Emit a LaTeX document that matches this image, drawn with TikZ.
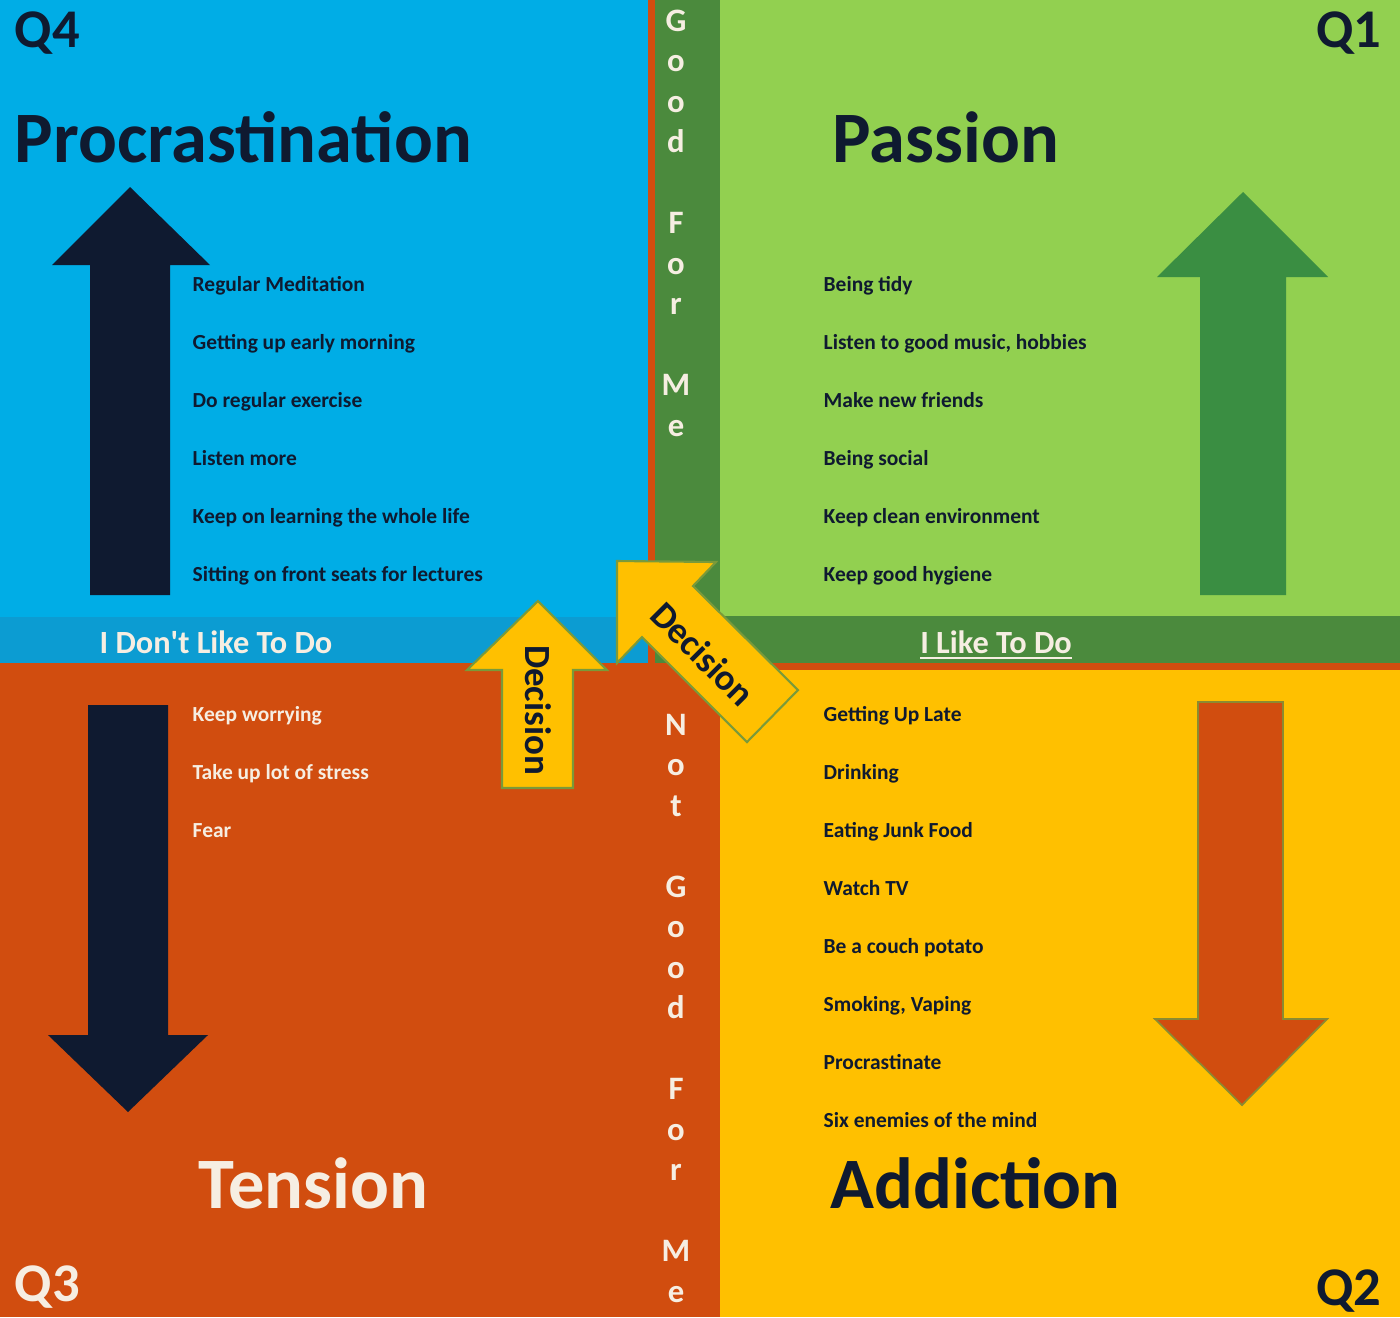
\documentclass[tikz,border=0pt]{standalone}
\usepackage{fontspec}
\setmainfont{Carlito}
\usetikzlibrary{positioning}

\definecolor{qblue}{HTML}{00ADE6}
\definecolor{qblueband}{HTML}{0C9CD2}
\definecolor{qgreen}{HTML}{92D050}
\definecolor{qstrip}{HTML}{4B8A3D}
\definecolor{qarrowgreen}{HTML}{3A8E42}
\definecolor{qorange}{HTML}{D14D0F}
\definecolor{qyellow}{HTML}{FFC000}
\definecolor{qnavy}{HTML}{0F1A30}
\definecolor{qcream}{HTML}{F6EEE2}
\definecolor{qedge}{HTML}{7A9A3A}

\begin{document}
\begin{tikzpicture}[x=0.01cm, y=-0.01cm,
    title/.style={anchor=base west, inner sep=0pt, font=\fontsize{20.6}{24}\selectfont\bfseries},
    qlabel/.style={inner sep=0pt, font=\fontsize{15.5}{18}\selectfont\bfseries},
    item/.style={anchor=base west, inner sep=0pt, font=\fontsize{6.1}{7.5}\selectfont\bfseries},
    band/.style={anchor=base, inner sep=0pt, text=qcream, font=\fontsize{9.2}{11}\selectfont\bfseries},
    letter/.style={anchor=base, inner sep=0pt, text=qcream, font=\fontsize{9.3}{11}\selectfont\bfseries},
    decision/.style={fill=qyellow, draw=qedge, line width=0.6pt},
    dectext/.style={inner sep=0pt, text=qnavy, font=\fontsize{10.5}{12}\selectfont\bfseries}]
  \useasboundingbox (0,0) rectangle (1400,1317);

  % quadrants and bands
  \fill[qblue] (0,0) rectangle (648,617);
  \fill[qblueband] (0,617) rectangle (648,663);
  \fill[qorange] (648,0) rectangle (655,663);
  \fill[qstrip] (655,0) rectangle (720,663);
  \fill[qgreen] (720,0) rectangle (1400,616);
  \fill[qstrip] (720,616) rectangle (1400,663);
  \fill[qorange] (0,663) rectangle (720,1317);
  \fill[qorange] (720,663) rectangle (1400,670);
  \fill[qyellow] (720,670) rectangle (1400,1317);

  % big arrows
  \fill[qnavy] (90,595) -- (90,265) -- (52,265) -- (130,187) -- (210,265) -- (170,265) -- (170,595) -- cycle;
  \fill[qnavy] (88,705) -- (168,705) -- (168,1035) -- (208,1035) -- (128,1112) -- (48,1035) -- (88,1035) -- cycle;
  \fill[qarrowgreen] (1200,595) -- (1200,277) -- (1157,277) -- (1243,192) -- (1328,277) -- (1286,277) -- (1286,595) -- cycle;
  \draw[fill=qorange, draw=qedge!80!qorange, line width=0.5pt] (1198,702) -- (1283,702) -- (1283,1019) -- (1327,1019) -- (1242,1105) -- (1155,1019) -- (1198,1019) -- cycle;

  % decision arrows
  \draw[decision] (502,788) -- (502,670) -- (467,670) -- (538,601) -- (607,670) -- (573,670) -- (573,788) -- cycle;
  \draw[decision] (617,561) -- (716,562) -- (693,586) -- (798,690) -- (747,742) -- (642,637) -- (617,663) -- cycle;
  \node[dectext, rotate=-90] (dec1) at (538,710) {Decision};
  \node[dectext, rotate=-45] (dec2) at (703,654) {Decision};

  % quadrant labels and titles
  \node[qlabel, anchor=base west, text=qnavy] (q4) at (14,47) {Q4};
  \node[qlabel, anchor=base east, text=qnavy] (q1) at (1382,47) {Q1};
  \node[qlabel, anchor=base west, text=qcream] (q3) at (14,1301) {Q3};
  \node[qlabel, anchor=base east, text=qnavy] (q2) at (1382,1305) {Q2};

  \node[title, text=qnavy] (procr) at (14,162) {Procrastination};
  \node[title, text=qnavy] (passion) at (832,162) {Passion};
  \node[title, text=qcream] (tension) at (198,1208) {Tension};
  \node[title, text=qnavy] (addiction) at (830,1208) {Addiction};

  % lists
  \foreach \txt [count=\i] in {Regular Meditation, Getting up early morning, Do regular exercise,
      Listen more, Keep on learning the whole life, Sitting on front seats for lectures}
    \node[item, text=qnavy] (dont\i) at (192,233+58*\i) {\txt};
  \foreach \txt [count=\i] in {Being tidy, {Listen to good music, hobbies}, Make new friends,
      Being social, Keep clean environment, Keep good hygiene}
    \node[item, text=qnavy] (like\i) at (823,233+58*\i) {\txt};
  \foreach \txt [count=\i] in {Keep worrying, Take up lot of stress, Fear}
    \node[item, text=qcream] (stress\i) at (192,663+58*\i) {\txt};
  \foreach \txt [count=\i] in {Getting Up Late, Drinking, Eating Junk Food, Watch TV,
      Be a couch potato, {Smoking, Vaping}, Procrastinate, Six enemies of the mind}
    \node[item, text=qnavy] (habit\i) at (823,663+58*\i) {\txt};

  % band labels
  \node[band] (dontlike) at (216,653) {I Don\textquotesingle t Like To Do};
  \node[band] (ilike) at (996,653) {\underline{I Like To Do}};

  % vertical words
  \foreach \ch/\k in {G/0,o/1,o/2,d/3,F/5,o/6,r/7,M/9,e/10}
    \node[letter] (good\k) at (676,31+40.5*\k) {\ch};
  \foreach \ch/\k in {N/0,o/1,t/2,G/4,o/5,o/6,d/7,F/9,o/10,r/11,M/13,e/14}
    \node[letter] (notgood\k) at (676,735+40.5*\k) {\ch};
\end{tikzpicture}
\end{document}
